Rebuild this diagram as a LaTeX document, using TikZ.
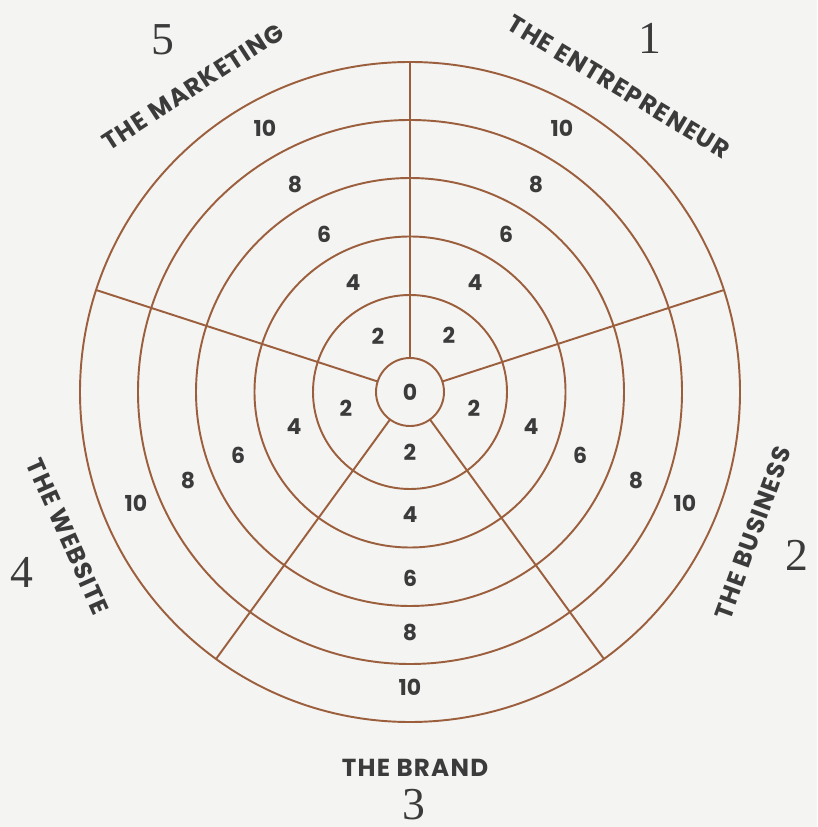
\documentclass[tikz,border=0pt]{standalone}
\usepackage{fontspec}
\newfontfamily\wheelfont{Poppins}[LetterSpace=5]
\newfontfamily\ringfont{Poppins}
\newfontfamily\bignumfont{Liberation Serif}
\definecolor{wheelbrown}{HTML}{9B5F3D}
\definecolor{inkgray}{HTML}{3B3B3B}
\definecolor{paper}{HTML}{F4F4F2}
\tikzset{
  ring/.style={draw=wheelbrown, line width=1.1pt},
  spoke/.style={draw=wheelbrown, line width=1.1pt},
  score/.style={text=inkgray, font=\ringfont\bfseries\fontsize{12.5}{14}\selectfont},
  area/.style={text=inkgray, inner sep=0pt, font=\wheelfont\bfseries\fontsize{14}{16}\selectfont},
  areanum/.style={text=inkgray, inner sep=0pt, font=\bignumfont\fontsize{26}{30}\selectfont}
}
\begin{document}
\begin{tikzpicture}[x=0.02cm,y=0.02cm]
\fill[paper] (-410,-435) rectangle (407,392);
\useasboundingbox (-410,-435) rectangle (407,392);

\draw[ring] (0,0) circle (34);
\draw[ring] (0,0) circle (97);
\draw[ring] (0,0) circle (155.5);
\draw[ring] (0,0) circle (214);
\draw[ring] (0,0) circle (272);
\draw[ring] (0,0) circle (330);

\coordinate (s1) at (90:34);  \coordinate (e1) at (90:330);
\coordinate (s2) at (18:34);  \coordinate (e2) at (18:330);
\coordinate (s3) at (-54:34); \coordinate (e3) at (-54:330);
\coordinate (s4) at (234:34); \coordinate (e4) at (234:330);
\coordinate (s5) at (162:34); \coordinate (e5) at (162:330);
\draw[spoke] (s1) -- (e1);
\draw[spoke] (s2) -- (e2);
\draw[spoke] (s3) -- (e3);
\draw[spoke] (s4) -- (e4);
\draw[spoke] (s5) -- (e5);

\node[score] (c0) at (0,0) {0};

% sector 1
\node[score] (a2) at (39,57) {2};
\node[score] (a4) at (65,109) {4};
\node[score] (a6) at (96,158) {6};
\node[score] (a8) at (126,208) {8};
\node[score] (a10) at (152,264) {10};
% sector 2
\node[score] (b2) at (64,-16) {2};
\node[score] (b4) at (121,-35) {4};
\node[score] (b6) at (170,-63) {6};
\node[score] (b8) at (226,-88) {8};
\node[score] (b10) at (275,-111) {10};
% sector 3
\node[score] (c2) at (0,-60) {2};
\node[score] (c4) at (0,-123) {4};
\node[score] (c6) at (0,-186) {6};
\node[score] (c8) at (0,-240) {8};
\node[score] (c10) at (0,-295) {10};
% sector 4
\node[score] (d2) at (-64,-16) {2};
\node[score] (d4) at (-116,-35) {4};
\node[score] (d6) at (-172,-63) {6};
\node[score] (d8) at (-222,-88) {8};
\node[score] (d10) at (-274,-111) {10};
% sector 5
\node[score] (f2) at (-32,56) {2};
\node[score] (f4) at (-57,109) {4};
\node[score] (f6) at (-86,158) {6};
\node[score] (f8) at (-115,208) {8};
\node[score] (f10) at (-145,264) {10};

\node[area, rotate=-31] (t1) at (209,305) {THE ENTREPRENEUR};
\node[area, rotate=70] (t2) at (343,-141) {THE BUSINESS};
\node[area] (t3) at (5,-376) {THE BRAND};
\node[area, rotate=-66] (t4) at (-342,-145) {THE WEBSITE};
\node[area, rotate=33] (t5) at (-217,305) {THE MARKETING};

\node[areanum] (n1) at (240,354) {1};
\node[areanum] (n2) at (387,-163) {2};
\node[areanum] (n3) at (4,-413) {3};
\node[areanum] (n4) at (-388,-180) {4};
\node[areanum] (n5) at (-247,352) {5};
\end{tikzpicture}
\end{document}
